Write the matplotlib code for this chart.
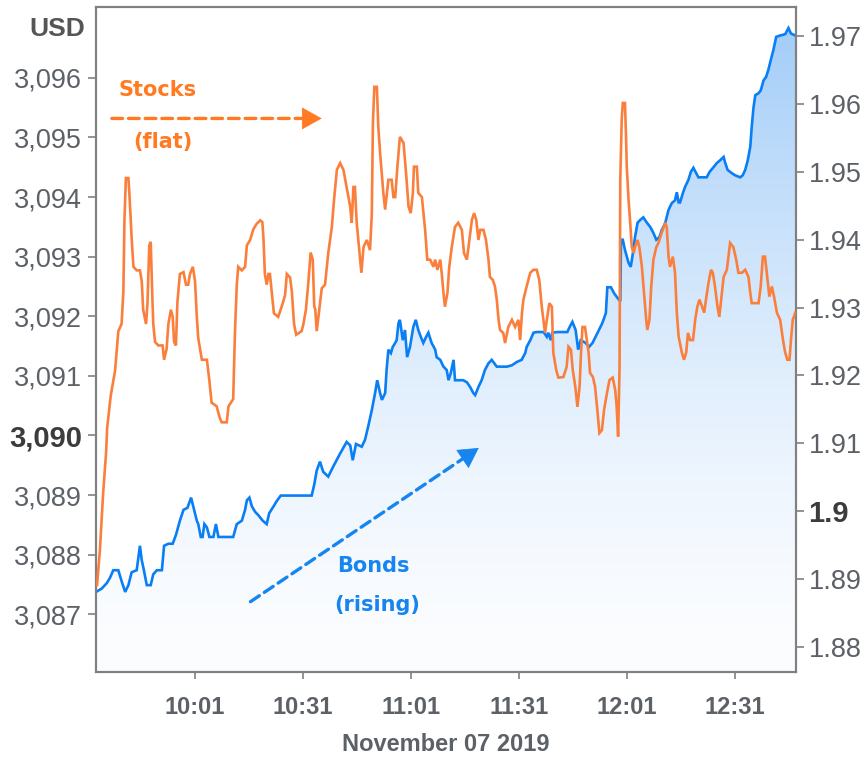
import numpy as np
import matplotlib
matplotlib.use("Agg")
import matplotlib.pyplot as plt
from matplotlib.colors import to_rgb

# ---------------- data (minutes after 09:30, 7 Nov 2019) ----------------
stock_minutes = [3.8, 4.6, 5.5, 6.3, 6.6, 7.6, 8.8, 9.7, 10.6, 11.1, 11.4, 11.8, 12.5, 12.8, 13.4, 13.9,
    14.8, 15.7, 16.2, 16.6, 17.4, 17.8, 18.3, 18.7, 19.1, 19.4, 19.9, 20.8, 22.0, 22.4, 23.1, 23.6,
    24.3, 24.8, 25.2, 25.7, 26.1, 26.8, 27.8, 28.5, 29.1, 29.6, 30.4, 31.0, 31.5, 31.9, 32.9, 34.3,
    35.0, 35.6, 37.0, 37.8, 38.4, 39.8, 40.3, 41.6, 42.1, 42.6, 43.0, 44.0, 44.9, 45.4, 46.3, 47.2,
    48.1, 49.1, 49.7, 50.0, 50.4, 50.9, 51.4, 51.8, 52.3, 52.9, 54.1, 55.1, 56.0, 56.5, 57.4, 57.9,
    58.5, 59.1, 60.6, 61.1, 61.8, 62.5, 63.1, 63.7, 64.1, 64.4, 64.8, 65.5, 66.2, 67.1, 68.0, 69.0,
    69.6, 70.4, 71.3, 72.2, 73.1, 74.1, 74.5, 75.0, 75.4, 75.9, 76.6, 77.2, 77.8, 78.7, 79.6, 80.1,
    80.4, 80.8, 81.5, 81.9, 82.4, 83.3, 83.8, 84.7, 85.6, 86.1, 86.6, 87.2, 87.9, 88.9, 89.6, 90.3,
    90.9, 91.5, 91.8, 92.6, 93.0, 94.0, 94.9, 95.5, 96.3, 97.2, 97.7, 98.3, 99.1, 99.5, 100.0, 100.4,
    101.1, 101.6, 102.3, 103.2, 104.1, 105.1, 105.7, 106.5, 107.2, 107.9, 108.5, 109.1, 109.7, 110.2,
    111.1, 111.8, 112.5, 112.9, 113.7, 114.3, 114.8, 115.3, 115.7, 116.6, 117.1, 118.0, 119.0, 119.9,
    120.8, 121.3, 121.8, 122.2, 123.1, 124.1, 125.0, 125.9, 126.6, 127.3, 128.2, 128.7, 129.4, 130.1,
    130.5, 131.3, 131.9, 133.3, 134.2, 134.7, 135.4, 135.9, 136.6, 137.2, 137.8, 138.2, 138.6, 139.3,
    139.8, 140.3, 140.7, 141.5, 142.1, 142.8, 143.3, 144.0, 144.6, 145.4, 146.1, 147.0, 147.7, 148.1,
    148.5, 148.9, 149.1, 149.5, 149.8, 150.4, 150.7, 150.9, 151.4, 151.8, 152.3, 152.8, 153.2, 153.9,
    154.4, 155.1, 155.7, 156.3, 156.6, 157.2, 157.7, 158.3, 159.1, 159.7, 160.6, 161.6, 162.0, 162.5,
    162.9, 163.7, 164.3, 164.8, 165.3, 166.2, 166.8, 167.4, 167.9, 168.5, 169.3, 169.9, 170.5, 171.1,
    171.8, 172.4, 172.9, 173.6, 174.3, 174.8, 175.4, 176.1, 176.6, 177.3, 177.8, 178.7, 179.6, 180.5,
    181.3, 181.9, 182.9, 183.8, 184.7, 185.2, 185.6, 187.5, 188.1, 188.7, 189.3, 190.0, 190.5, 191.2,
    191.8, 192.6, 193.5, 194.3, 194.9, 195.5, 196.1, 196.5, 197.0, 197.7]
stock_values = [3087.49, 3088.09, 3089.05, 3089.71, 3090.13, 3090.67, 3091.09, 3091.75, 3091.87, 3092.41,
    3093.61, 3094.32, 3094.32, 3094.03, 3093.31, 3092.83, 3092.77, 3092.77, 3092.59, 3092.11, 3091.87,
    3092.23, 3093.19, 3093.25, 3092.41, 3091.87, 3091.57, 3091.51, 3091.51, 3091.27, 3091.45, 3091.87,
    3092.11, 3091.99, 3091.57, 3091.51, 3092.23, 3092.71, 3092.74, 3092.53, 3092.53, 3092.71, 3092.83,
    3092.59, 3091.99, 3091.63, 3091.27, 3091.27, 3090.91, 3090.55, 3090.49, 3090.31, 3090.22, 3090.22,
    3090.49, 3090.61, 3091.75, 3092.53, 3092.83, 3092.77, 3092.83, 3093.19, 3093.28, 3093.46, 3093.55,
    3093.61, 3093.58, 3093.31, 3092.71, 3092.53, 3092.71, 3092.71, 3092.41, 3092.05, 3091.99, 3092.17,
    3092.35, 3092.71, 3092.65, 3092.41, 3091.87, 3091.69, 3091.75, 3091.87, 3092.11, 3092.59, 3093.07,
    3092.95, 3092.17, 3092.11, 3091.75, 3092.11, 3092.47, 3092.53, 3093.06, 3093.50, 3093.95, 3094.46,
    3094.57, 3094.46, 3094.17, 3093.84, 3093.57, 3094.17, 3094.17, 3093.57, 3093.11, 3092.73, 3093.16,
    3093.28, 3093.11, 3093.73, 3095.24, 3095.85, 3095.85, 3095.18, 3094.74, 3094.07, 3093.79, 3094.29,
    3094.29, 3094.00, 3094.00, 3094.51, 3095.01, 3094.91, 3094.41, 3093.84, 3093.73, 3094.07, 3094.51,
    3094.51, 3094.07, 3094.00, 3093.45, 3092.95, 3092.95, 3092.83, 3092.95, 3092.78, 3092.95, 3092.73,
    3092.39, 3092.16, 3092.39, 3092.83, 3093.16, 3093.50, 3093.57, 3093.45, 3093.06, 3092.95, 3093.28,
    3093.62, 3093.73, 3093.62, 3093.28, 3093.45, 3093.45, 3093.28, 3092.95, 3092.66, 3092.61, 3092.50,
    3092.28, 3091.94, 3091.77, 3091.72, 3091.55, 3091.82, 3091.94, 3091.82, 3091.94, 3091.60, 3092.06,
    3092.28, 3092.50, 3092.73, 3092.78, 3092.78, 3092.61, 3092.16, 3091.72, 3091.94, 3092.22, 3092.16,
    3091.39, 3091.10, 3090.97, 3090.98, 3091.15, 3091.49, 3091.44, 3091.10, 3090.82, 3090.48, 3090.82,
    3091.39, 3091.82, 3091.82, 3091.60, 3091.39, 3091.05, 3090.98, 3090.82, 3090.38, 3090.04, 3090.09,
    3090.43, 3090.71, 3090.93, 3090.97, 3090.76, 3090.48, 3089.98, 3091.15, 3094.29, 3095.30, 3095.58,
    3095.58, 3095.01, 3094.51, 3093.95, 3093.62, 3093.16, 3093.06, 3093.16, 3093.28, 3093.16, 3092.83,
    3092.39, 3091.94, 3091.77, 3091.94, 3092.50, 3092.95, 3093.16, 3093.23, 3093.40, 3093.57, 3093.50,
    3093.00, 3092.83, 3093.00, 3092.73, 3092.06, 3091.66, 3091.39, 3091.27, 3091.39, 3091.72, 3091.60,
    3091.60, 3091.94, 3092.16, 3092.28, 3092.16, 3092.06, 3092.28, 3092.56, 3092.78, 3092.73, 3092.50,
    3092.16, 3091.99, 3092.39, 3092.66, 3092.78, 3093.23, 3093.16, 3092.95, 3092.73, 3092.73, 3092.78,
    3092.66, 3092.39, 3092.22, 3092.22, 3092.50, 3093.00, 3093.00, 3092.61, 3092.33, 3092.50, 3092.33,
    3092.06, 3091.94, 3091.60, 3091.39, 3091.27, 3091.27, 3091.60, 3091.94, 3092.06]

bond_minutes = [3.5, 5.1, 6.5, 7.4, 8.3, 9.7, 10.6, 11.6, 12.5, 13.4, 14.8, 15.7, 16.2, 16.8, 17.6, 18.7,
    19.4, 20.4, 21.8, 22.4, 23.6, 24.8, 25.7, 26.8, 27.8, 28.9, 29.9, 30.5, 31.5, 31.9, 32.6, 33.1,
    33.6, 34.3, 35.0, 36.1, 36.8, 37.5, 41.6, 42.6, 44.0, 44.9, 45.4, 46.1, 46.8, 47.7, 48.6, 49.8,
    50.9, 51.6, 52.8, 53.7, 54.8, 63.4, 64.1, 64.8, 65.7, 66.6, 68.0, 69.4, 71.3, 73.1, 74.1, 74.8,
    75.7, 77.3, 78.2, 79.1, 80.1, 81.0, 81.6, 82.4, 82.9, 83.8, 84.2, 84.7, 85.4, 85.9, 86.6, 87.0,
    87.5, 87.9, 88.7, 89.3, 89.9, 90.7, 91.6, 92.3, 93.0, 93.7, 94.4, 95.2, 95.8, 96.7, 97.7, 98.1,
    99.1, 100.0, 100.9, 101.4, 102.0, 102.8, 103.2, 105.5, 106.5, 107.4, 108.3, 108.8, 109.7, 110.6,
    111.5, 112.5, 113.4, 114.8, 117.6, 119.0, 120.4, 121.7, 122.7, 123.1, 124.1, 125.0, 125.9, 127.8,
    128.7, 129.1, 129.8, 130.2, 131.6, 134.4, 134.9, 135.8, 136.7, 137.4, 138.1, 139.5, 140.4, 141.4,
    142.8, 144.1, 145.1, 145.5, 146.5, 147.4, 148.8, 149.1, 149.3, 149.8, 150.4, 151.4, 152.0, 152.6,
    153.2, 153.9, 154.6, 155.5, 156.5, 157.4, 158.3, 159.1, 160.0, 160.6, 161.6, 162.5, 163.4, 164.3,
    164.8, 165.3, 165.7, 166.5, 167.1, 168.0, 168.7, 169.4, 170.2, 170.8, 173.1, 173.9, 175.0, 175.9,
    176.8, 177.8, 178.2, 178.9, 180.1, 181.0, 182.4, 183.1, 183.8, 184.5, 185.2, 185.6, 186.1, 186.6,
    187.5, 188.1, 188.9, 189.6, 190.2, 190.9, 191.6, 192.4, 193.5, 194.9, 195.8, 196.5, 197.7]
bond_yields = [1.8881, 1.8886, 1.8894, 1.8902, 1.8913, 1.8913, 1.8897, 1.8881, 1.8891, 1.8910, 1.8913,
    1.8949, 1.8928, 1.8913, 1.8891, 1.8891, 1.8907, 1.8913, 1.8913, 1.8949, 1.8952, 1.8952, 1.8965,
    1.8986, 1.9002, 1.9005, 1.9020, 1.9007, 1.8986, 1.8981, 1.8962, 1.8962, 1.8981, 1.8976, 1.8962,
    1.8962, 1.8981, 1.8962, 1.8962, 1.8981, 1.8986, 1.9002, 1.9016, 1.9020, 1.9007, 1.8999, 1.8994,
    1.8986, 1.8981, 1.8997, 1.9007, 1.9015, 1.9023, 1.9023, 1.9039, 1.9060, 1.9073, 1.9058, 1.9051,
    1.9066, 1.9085, 1.9102, 1.9097, 1.9075, 1.9099, 1.9095, 1.9105, 1.9125, 1.9149, 1.9174, 1.9193,
    1.9174, 1.9164, 1.9174, 1.9208, 1.9238, 1.9233, 1.9242, 1.9248, 1.9252, 1.9277, 1.9282, 1.9252,
    1.9267, 1.9227, 1.9242, 1.9271, 1.9282, 1.9267, 1.9257, 1.9248, 1.9257, 1.9263, 1.9248, 1.9238,
    1.9227, 1.9223, 1.9213, 1.9208, 1.9193, 1.9203, 1.9223, 1.9193, 1.9193, 1.9190, 1.9183, 1.9174,
    1.9171, 1.9183, 1.9193, 1.9208, 1.9218, 1.9223, 1.9213, 1.9213, 1.9215, 1.9220, 1.9223, 1.9233,
    1.9242, 1.9252, 1.9263, 1.9264, 1.9264, 1.9257, 1.9263, 1.9252, 1.9263, 1.9264, 1.9264, 1.9270,
    1.9279, 1.9267, 1.9238, 1.9252, 1.9248, 1.9242, 1.9248, 1.9263, 1.9277, 1.9292, 1.9330, 1.9330,
    1.9321, 1.9311, 1.9311, 1.9400, 1.9400, 1.9385, 1.9366, 1.9360, 1.9380, 1.9404, 1.9425, 1.9429,
    1.9433, 1.9425, 1.9419, 1.9410, 1.9400, 1.9404, 1.9414, 1.9425, 1.9444, 1.9454, 1.9458, 1.9470,
    1.9455, 1.9455, 1.9469, 1.9478, 1.9488, 1.9500, 1.9506, 1.9498, 1.9492, 1.9492, 1.9500, 1.9507,
    1.9513, 1.9517, 1.9522, 1.9514, 1.9503, 1.9498, 1.9495, 1.9492, 1.9495, 1.9503, 1.9517, 1.9537,
    1.9566, 1.9595, 1.9613, 1.9616, 1.9620, 1.9635, 1.9640, 1.9650, 1.9665, 1.9679, 1.9699, 1.9701,
    1.9703, 1.9712, 1.9704, 1.9701]

time_ticks = [31, 61, 91, 121, 151, 181]
time_labels = ["10:01", "10:31", "11:01", "11:31", "12:01", "12:31"]
stock_ticks = [3087, 3088, 3089, 3090, 3091, 3092, 3093, 3094, 3095, 3096]
stock_labels = ["3,087", "3,088", "3,089", "3,090", "3,091", "3,092", "3,093", "3,094", "3,095", "3,096"]
bond_ticks = [1.88, 1.89, 1.90, 1.91, 1.92, 1.93, 1.94, 1.95, 1.96, 1.97]
bond_labels = ["1.88", "1.89", "1.9", "1.91", "1.92", "1.93", "1.94", "1.95", "1.96", "1.97"]
x_label = "November 07 2019"
unit_label = "USD"

# ---------------- style ----------------
plt.rcParams['font.family'] = ['Liberation Sans', 'DejaVu Sans']
ORANGE = '#fb7f3c'
ORANGE_TXT = '#ff7a22'
BLUE = '#0a7ef5'
BLUE_TXT = '#1685ef'
GREY = '#5c6167'
SPINE = '#808080'

XMIN, XMAX = 3.5, 197.9
SMIN, SMAX = 3086.03, 3097.19
BMIN, BMAX = 1.8763, 1.9743

fig = plt.figure(figsize=(8.68, 7.59), dpi=100)
ax = fig.add_axes([96/868, 1-672/759, 700/868, 665/759])
ax2 = ax.twinx()
ax.set_zorder(ax2.get_zorder() + 1)
ax.patch.set_visible(False)
ax2.patch.set_facecolor('white')

# gradient fill under bonds line
top = np.array(to_rgb('#9fcbf8'))
bot = np.array(to_rgb('#fcfdff'))
u = np.linspace(0, 1, 256)[:, None] ** 1.5
img = (bot + (top - bot) * u).reshape(256, 1, 3)
im = ax2.imshow(img, extent=[XMIN, XMAX, BMIN, BMAX], origin='lower', aspect='auto',
                interpolation='bilinear', zorder=1)
poly = ax2.fill_between(bond_minutes, bond_yields, BMIN, facecolor='none', edgecolor='none')
im.set_clip_path(poly.get_paths()[0], transform=ax2.transData)
ax2.plot(bond_minutes, bond_yields, color=BLUE, lw=1.9, zorder=3, solid_joinstyle='miter')

ax.plot(stock_minutes, stock_values, color=ORANGE, lw=1.9, zorder=3, solid_joinstyle='miter')

# limits & ticks
ax.set_xlim(XMIN, XMAX)
ax.set_ylim(SMIN, SMAX)
ax2.set_ylim(BMIN, BMAX)
ax2.set_xlim(XMIN, XMAX)

ax.set_xticks(time_ticks)
ax.set_xticklabels(time_labels, fontsize=17, fontweight='bold', color=GREY)
ax.set_yticks(stock_ticks)
ax.set_yticklabels(stock_labels, fontsize=19.5, color=GREY)
ax2.set_yticks(bond_ticks)
ax2.set_yticklabels(bond_labels, fontsize=19.5, color=GREY)

for lab in ax.get_yticklabels():
    if lab.get_text() == "3,090":
        lab.set_fontweight('bold'); lab.set_color('#3c3c3c'); lab.set_fontsize(21)
for lab in ax2.get_yticklabels():
    if lab.get_text() == "1.9":
        lab.set_fontweight('bold'); lab.set_color('#3c3c3c'); lab.set_fontsize(21)

ax.tick_params(axis='y', length=6, width=1.2, color=SPINE, pad=4)
ax.tick_params(axis='x', length=5, width=1.2, color=SPINE, pad=12)
ax2.tick_params(axis='y', length=6, width=1.2, color=SPINE, pad=3)

for a in (ax, ax2):
    for s in a.spines.values():
        s.set_color(SPINE)
        s.set_linewidth(1.5)

ax.set_xlabel(x_label, fontsize=17, fontweight='bold', color=GREY)
ax.xaxis.set_label_coords(0.5, -0.092)
ax.xaxis.label.set_va('top')

fig.text(57/868, 1-29/759, unit_label, fontsize=19, fontweight='bold', color='#555555',
         ha='center', va='center')

# annotations
def dashed_arrow(start, base, tip, color):
    ax.annotate('', xy=base, xytext=start,
                arrowprops=dict(arrowstyle='-', color=color, lw=2.4,
                                linestyle=(0, (3.2, 1.8)), shrinkA=0, shrinkB=0))
    ax.annotate('', xy=tip, xytext=base,
                arrowprops=dict(arrowstyle='-|>,head_length=0.45,head_width=0.25', color=color,
                                lw=0.5, mutation_scale=30, shrinkA=0, shrinkB=0))

ax.text(20.7, 3095.80, "Stocks", color=ORANGE_TXT, fontsize=15, fontweight='bold',
        ha='center', va='center', family='DejaVu Sans')
ax.text(22.1, 3094.93, "(flat)", color=ORANGE_TXT, fontsize=15, fontweight='bold',
        ha='center', va='center', family='DejaVu Sans')
dashed_arrow((7.9, 3095.32), (61.5, 3095.32), (66.2, 3095.32), ORANGE_TXT)

ax.text(80.4, 3087.81, "Bonds", color=BLUE_TXT, fontsize=15, fontweight='bold',
        ha='center', va='center', family='DejaVu Sans')
ax.text(81.5, 3087.16, "(rising)", color=BLUE_TXT, fontsize=15, fontweight='bold',
        ha='center', va='center', family='DejaVu Sans')
dashed_arrow((46.4, 3087.21), (105.9, 3089.63), (109.8, 3089.79), BLUE_TXT)

fig.savefig('out.png', dpi=100)
